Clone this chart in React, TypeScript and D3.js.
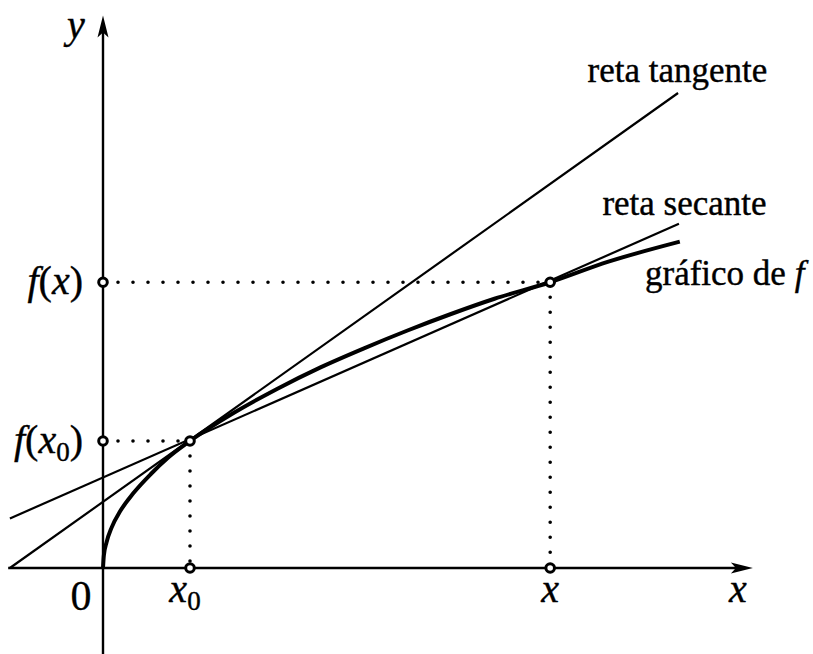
import React from 'react';
import * as d3 from 'd3';

// picture units: x0 = 1, f(x0) = 1
const curvePoints: [number, number][] = [
  [0, 0], [0.01, 0.1], [0.04, 0.2], [0.1, 0.32], [0.2, 0.45], [0.35, 0.59],
  [0.55, 0.74], [0.75, 0.87], [1, 1], [1.5, 1.22], [2, 1.41], [2.5, 1.58],
  [3, 1.73], [3.5, 1.87], [4, 2], [4.5, 2.12], [5.14, 2.25], [5.8, 2.41], [6.63, 2.57],
];
const secantLine: [number, number][] = [[-1.07, 0.39], [6.62, 2.71]];
const tangentLine: [number, number][] = [[-1.07, 0], [6.61, 3.74]];
const marked = [
  { x: 1, y: 1, xLabel: 'x', sub: '0' },
  { x: 5.14, y: 2.25, xLabel: 'x', sub: '' },
];
const xAxisRange = [-1.09, 7.47];
const yAxisRange = [-0.68, 4.35];
const lineLabels = [
  { text: 'reta tangente', x: 5.57, y: 3.83 },
  { text: 'reta secante', x: 5.74, y: 2.78 },
  { text: 'gráfico de ', italic: 'f', x: 6.23, y: 2.23 },
];

const W = 813;
const H = 654;

export default function App() {
  const x = d3.scaleLinear().domain([0, 1]).range([103, 190]);
  const y = d3.scaleLinear().domain([0, 1]).range([568, 441]);

  const line = d3
    .line<[number, number]>()
    .x((d) => x(d[0]))
    .y((d) => y(d[1]));
  const curve = d3
    .line<[number, number]>()
    .x((d) => x(d[0]))
    .y((d) => y(d[1]))
    .curve(d3.curveMonotoneX);

  const xEnd = x(xAxisRange[1]);
  const yTop = y(yAxisRange[1]);
  const serif = 'Liberation Serif, serif';
  const math = {
    fontFamily: serif,
    fontStyle: 'italic' as const,
    fontSize: 40,
    stroke: '#000',
    strokeWidth: 0.4,
  };

  return (
    <div style={{ position: 'absolute', left: 0, top: 0 }}>
      <svg width={W} height={H} style={{ display: 'block', background: '#fff' }}>
        {/* axes */}
        <line x1={x(xAxisRange[0])} y1={y(0)} x2={xEnd - 14} y2={y(0)} stroke="#000" strokeWidth={2.4} />
        <path d={`M${xEnd},${y(0)} L${xEnd - 22},${y(0) - 5.5} L${xEnd - 17},${y(0)} L${xEnd - 22},${y(0) + 5.5}Z`} fill="#000" />
        <line x1={x(0)} y1={y(yAxisRange[0])} x2={x(0)} y2={yTop + 14} stroke="#000" strokeWidth={2.4} />
        <path d={`M${x(0)},${yTop} L${x(0) - 5.5},${yTop + 22} L${x(0)},${yTop + 17} L${x(0) + 5.5},${yTop + 22}Z`} fill="#000" />

        {/* dotted guides */}
        {marked.map((m, i) => (
          <g key={i} stroke="#000" strokeWidth={3.6} strokeLinecap="round" strokeDasharray="0 15" fill="none">
            <line x1={x(0) + 15} y1={y(m.y)} x2={x(m.x)} y2={y(m.y)} />
            <line x1={x(m.x)} y1={y(m.y) + 15} x2={x(m.x)} y2={y(0)} />
          </g>
        ))}

        <path d={line(tangentLine) ?? ''} stroke="#000" strokeWidth={2.2} fill="none" />
        <path d={line(secantLine) ?? ''} stroke="#000" strokeWidth={2.2} fill="none" />
        <path d={curve(curvePoints) ?? ''} stroke="#000" strokeWidth={4} fill="none" />

        {/* marked points */}
        {marked.map((m, i) => (
          <g key={i} fill="#fff" stroke="#000" strokeWidth={3}>
            <circle cx={x(m.x)} cy={y(m.y)} r={4.3} />
            <circle cx={x(0)} cy={y(m.y)} r={4.3} />
            <circle cx={x(m.x)} cy={y(0)} r={4.3} />
          </g>
        ))}

        {/* math labels */}
        <text x={x(0) - 27} y={y(yAxisRange[1]) + 22} textAnchor="middle" {...math}>y</text>
        <text x={xEnd - 15} y={y(0) + 34} textAnchor="middle" {...math}>x</text>
        <text x={x(0) - 22} y={y(0) + 42} textAnchor="middle" fontFamily={serif} fontSize={42} stroke="#000" strokeWidth={0.3}>0</text>
        {marked.map((m, i) => (
          <g key={i}>
            <text x={x(m.x) - (m.sub ? 5 : 0)} y={y(0) + 34} textAnchor="middle" {...math}>
              {m.xLabel}
              {m.sub && (
                <tspan dy={8} fontSize={27} fontStyle="normal">{m.sub}</tspan>
              )}
            </text>
            <text x={x(0) - 20} y={y(m.y) + 12} textAnchor="end" {...math}>
              f<tspan fontStyle="normal">(</tspan>x
              {m.sub && (
                <tspan dy={8} fontSize={27} fontStyle="normal">{m.sub}</tspan>
              )}
              <tspan dy={m.sub ? -8 : 0} fontStyle="normal">)</tspan>
            </text>
          </g>
        ))}

        {/* line labels */}
        {lineLabels.map((l, i) => (
          <text key={i} x={x(l.x)} y={y(l.y)} fontFamily={serif} fontSize={35} stroke="#000" strokeWidth={0.4}>
            {l.text}
            {l.italic && <tspan fontStyle="italic">{l.italic}</tspan>}
          </text>
        ))}
      </svg>
    </div>
  );
}
